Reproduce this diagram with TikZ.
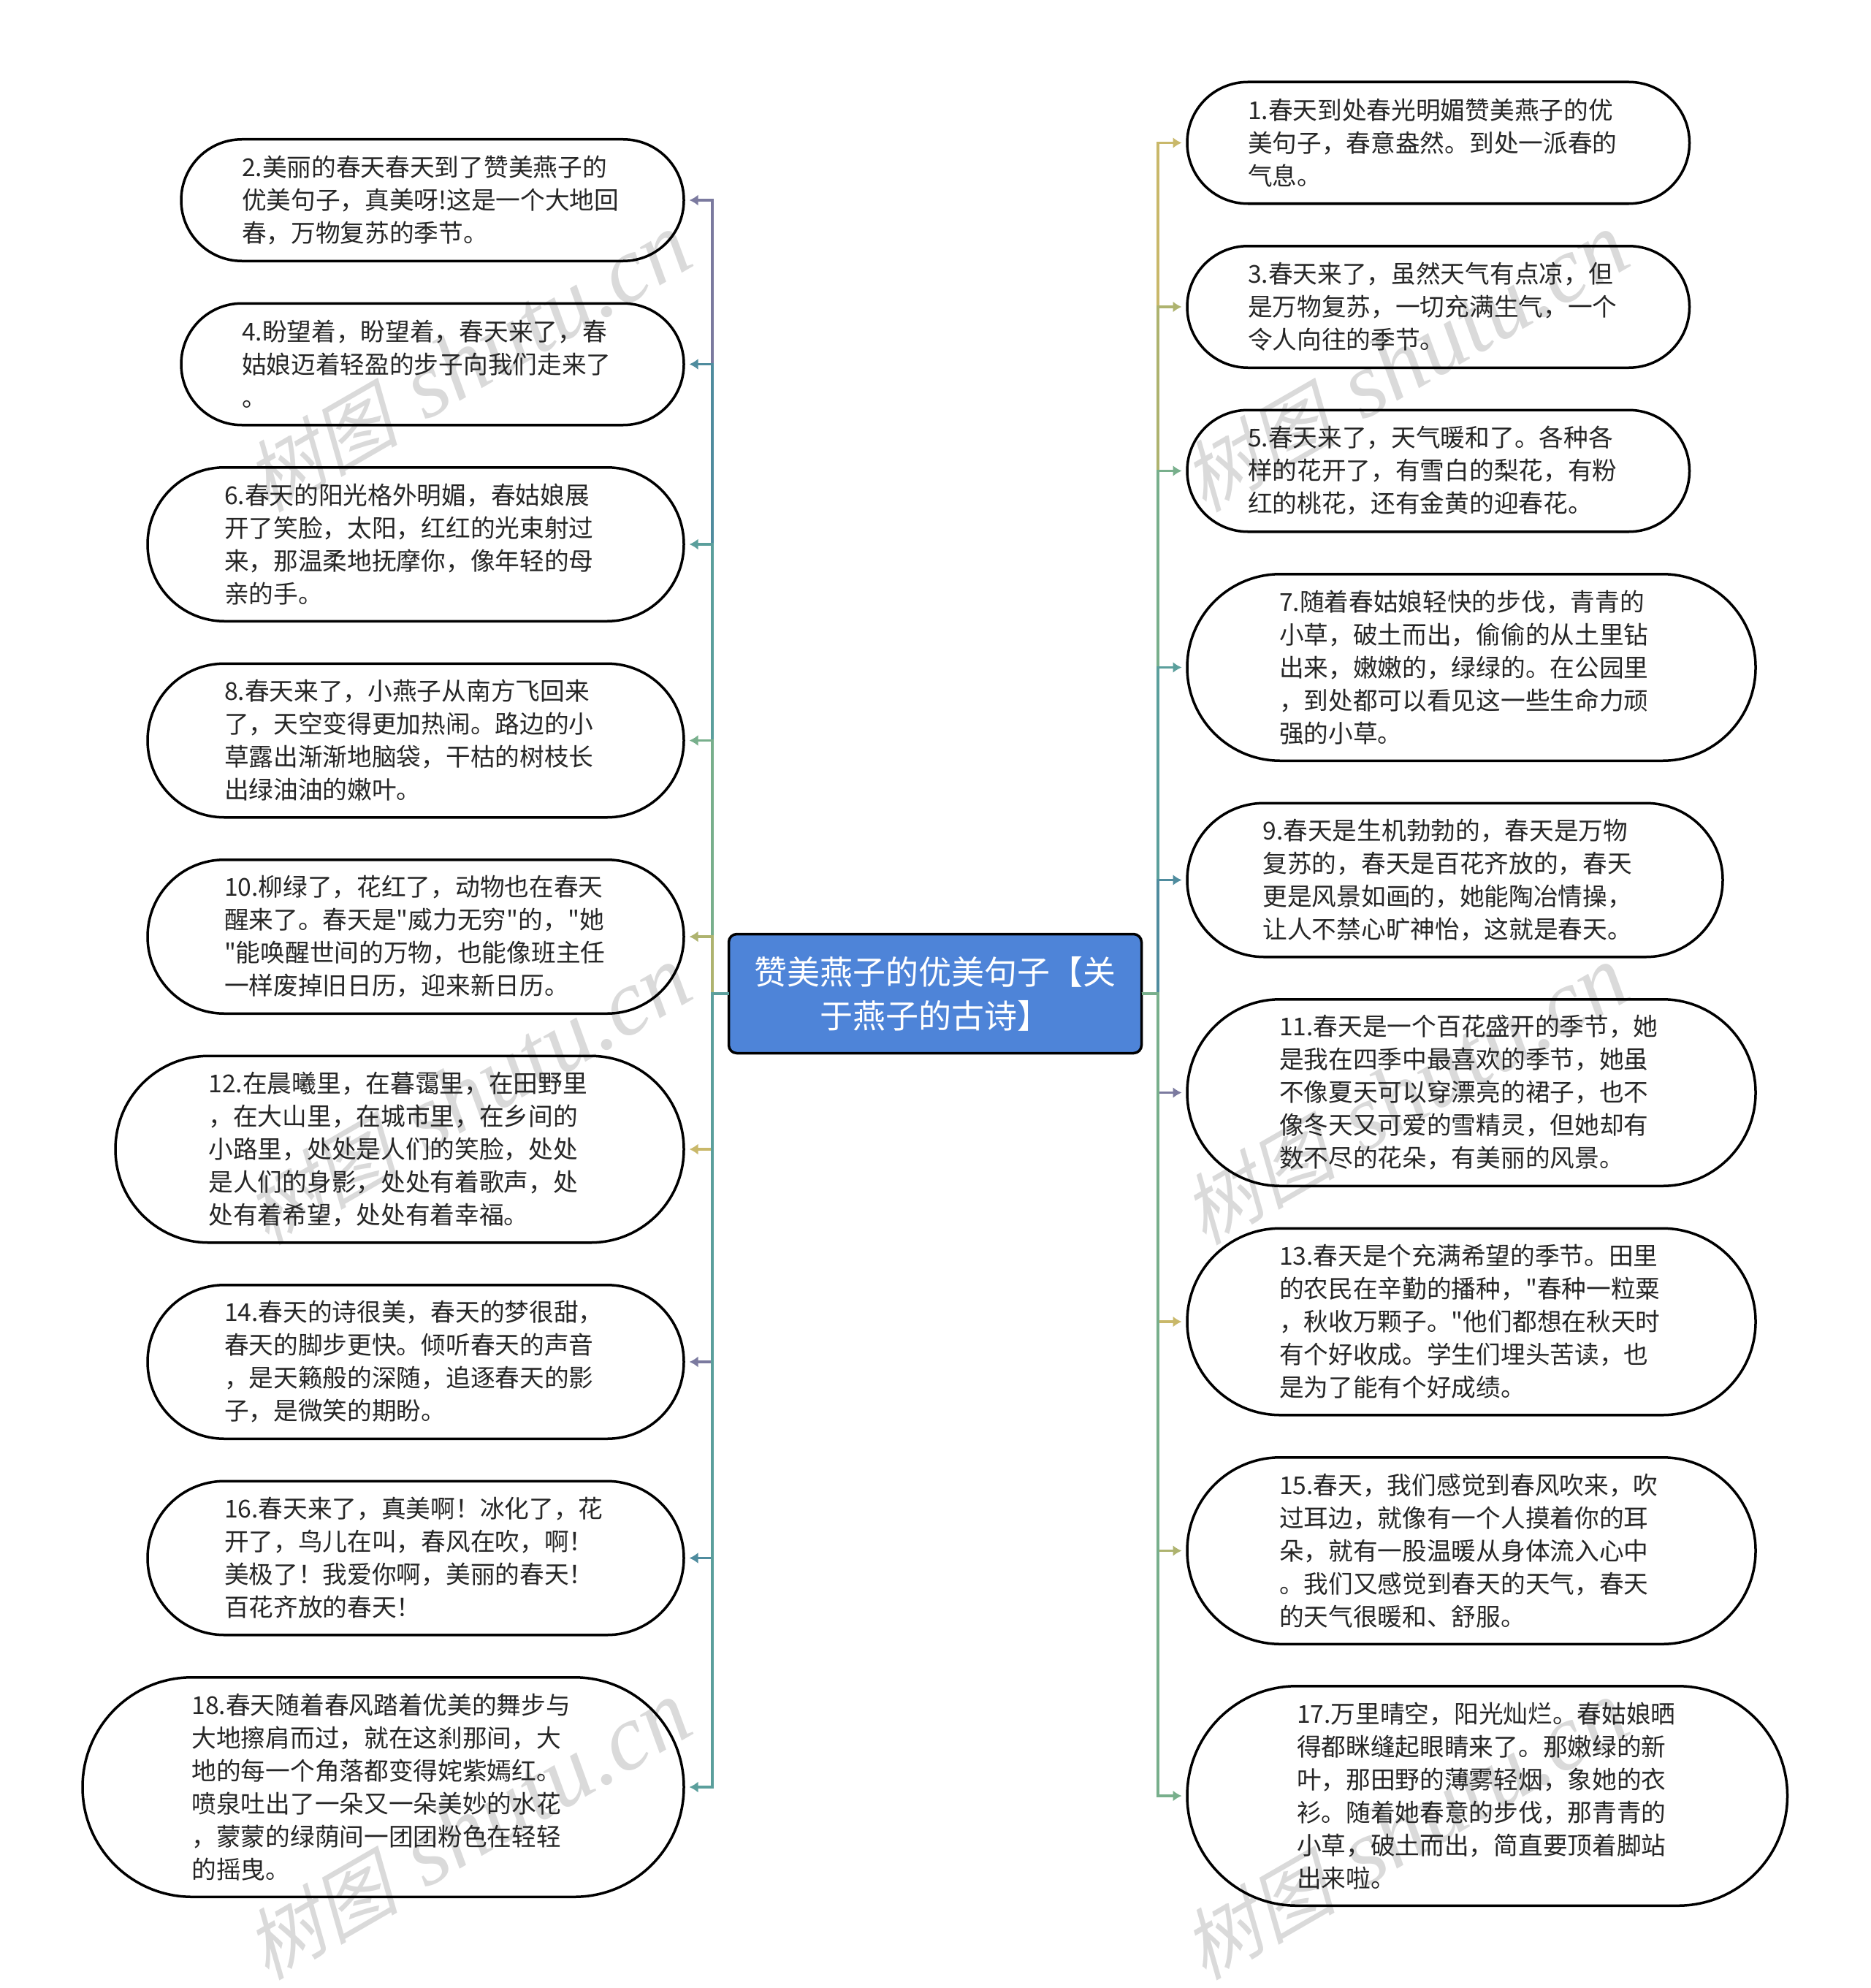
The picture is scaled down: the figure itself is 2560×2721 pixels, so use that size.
\documentclass[tikz,border=0pt]{standalone}
\usepackage{fontspec}
\usetikzlibrary{arrows.meta}
\newfontfamily\talkfont{Noto Sans CJK SC}
\newfontfamily\markcjk[FakeSlant=0.25]{Noto Sans CJK SC}
\newfontfamily\marklatin{Liberation Serif}
\newcommand{\stamptext}{{\markcjk\fontsize{106}{106}\selectfont 树图} {\marklatin\itshape shutu.cn}}
\definecolor{rootblue}{HTML}{4E84D8}
\definecolor{markgray}{HTML}{DADADA}
\definecolor{linepurple}{HTML}{7B7A9F}
\definecolor{lineblue}{HTML}{4F8C9E}
\definecolor{lineteal}{HTML}{5B9F9C}
\definecolor{linegreen}{HTML}{78AF8C}
\definecolor{lineolive}{HTML}{AEB36F}
\definecolor{linegold}{HTML}{C9B86A}
\begin{document}
\begin{tikzpicture}
    [
    x=1pt,y=-1pt,
    root/.style={rectangle,draw=black,line width=3.5pt,fill=rootblue,rounded corners=11pt,outer sep=0pt,inner sep=0pt,minimum width=565pt,minimum height=163pt,text=white,align=center,font=\talkfont\fontsize{45}{60}\selectfont},
    talk/.style={rectangle,draw=black,line width=3.5pt,outer sep=0pt,inner sep=0pt,align=left,text=black!85,font=\talkfont\fontsize{33.7}{45}\selectfont},
    talkthree/.style={talk,minimum height=166.5pt,rounded corners=83pt},
    talkfour/.style={talk,minimum height=210.5pt,rounded corners=105pt},
    talkfive/.style={talk,minimum height=255.5pt,rounded corners=127.5pt},
    talksix/.style={talk,minimum height=300.5pt,rounded corners=150pt},
    branch/.style={line width=3.5pt,shorten >=7.5pt,-{Latex[length=12pt,width=15pt]}},
    stamp/.style={rotate=30,text=markgray,inner sep=0pt,font=\fontsize{128}{128}\selectfont}
    ]
    \useasboundingbox (0,0) rectangle (2560,2721);
    \node (stamp1) at (640,497) [stamp] {\stamptext};
    \node (stamp2) at (1923,497) [stamp] {\stamptext};
    \node (stamp3) at (640,1500) [stamp] {\stamptext};
    \node (stamp4) at (1923,1500) [stamp] {\stamptext};
    \node (stamp5) at (640,2506) [stamp] {\stamptext};
    \node (stamp6) at (1923,2506) [stamp] {\stamptext};

    \node (topic) at (1280,1360) [root] {赞美燕子的优美句子【关\\于燕子的古诗】};

    \node (s2) at (592,274) [talkthree,minimum width=688pt,text width=522pt] {2.美丽的春天春天到了赞美燕子的\\优美句子，真美呀!这是一个大地回\\春，万物复苏的季节。};
    \node (s4) at (592,498.5) [talkthree,minimum width=688pt,text width=522pt] {4.盼望着，盼望着，春天来了，春\\姑娘迈着轻盈的步子向我们走来了\\。};
    \node (s6) at (569,745) [talkfour,minimum width=734pt,text width=524pt] {6.春天的阳光格外明媚，春姑娘展\\开了笑脸，太阳，红红的光束射过\\来，那温柔地抚摩你，像年轻的母\\亲的手。};
    \node (s8) at (569,1013.5) [talkfour,minimum width=734pt,text width=524pt] {8.春天来了，小燕子从南方飞回来\\了，天空变得更加热闹。路边的小\\草露出渐渐地脑袋，干枯的树枝长\\出绿油油的嫩叶。};
    \node (s10) at (569,1282) [talkfour,minimum width=734pt,text width=524pt] {10.柳绿了，花红了，动物也在春天\\醒来了。春天是"威力无穷"的，"她\\"能唤醒世间的万物，也能像班主任\\一样废掉旧日历，迎来新日历。};
    \node (s12) at (547,1573) [talkfive,minimum width=778pt,text width=523pt] {12.在晨曦里，在暮霭里，在田野里\\，在大山里，在城市里，在乡间的\\小路里，处处是人们的笑脸，处处\\是人们的身影，处处有着歌声，处\\处有着希望，处处有着幸福。};
    \node (s14) at (569,1864) [talkfour,minimum width=734pt,text width=524pt] {14.春天的诗很美，春天的梦很甜，\\春天的脚步更快。倾听春天的声音\\，是天籁般的深随，追逐春天的影\\子，是微笑的期盼。};
    \node (s16) at (569,2132.5) [talkfour,minimum width=734pt,text width=524pt] {16.春天来了，真美啊！冰化了，花\\开了，鸟儿在叫，春风在吹，啊！\\美极了！我爱你啊，美丽的春天！\\百花齐放的春天！};
    \node (s18) at (524.5,2446) [talksix,minimum width=823pt,text width=524pt] {18.春天随着春风踏着优美的舞步与\\大地擦肩而过，就在这刹那间，大\\地的每一个角落都变得姹紫嫣红。\\喷泉吐出了一朵又一朵美妙的水花\\，蒙蒙的绿荫间一团团粉色在轻轻\\的摇曳。};

    \node (s1) at (1968.75,195.5) [talkthree,minimum width=687.5pt,text width=521.5pt] {1.春天到处春光明媚赞美燕子的优\\美句子，春意盎然。到处一派春的\\气息。};
    \node (s3) at (1968.75,420) [talkthree,minimum width=687.5pt,text width=521.5pt] {3.春天来了，虽然天气有点凉，但\\是万物复苏，一切充满生气，一个\\令人向往的季节。};
    \node (s5) at (1968.75,644.5) [talkthree,minimum width=687.5pt,text width=521.5pt] {5.春天来了，天气暖和了。各种各\\样的花开了，有雪白的梨花，有粉\\红的桃花，还有金黄的迎春花。};
    \node (s7) at (2014,913.5) [talkfive,minimum width=778pt,text width=526pt] {7.随着春姑娘轻快的步伐，青青的\\小草，破土而出，偷偷的从土里钻\\出来，嫩嫩的，绿绿的。在公园里\\，到处都可以看见这一些生命力顽\\强的小草。};
    \node (s9) at (1991.5,1204.5) [talkfour,minimum width=733pt,text width=526pt] {9.春天是生机勃勃的，春天是万物\\复苏的，春天是百花齐放的，春天\\更是风景如画的，她能陶冶情操，\\让人不禁心旷神怡，这就是春天。};
    \node (s11) at (2014,1495.5) [talkfive,minimum width=778pt,text width=526pt] {11.春天是一个百花盛开的季节，她\\是我在四季中最喜欢的季节，她虽\\不像夏天可以穿漂亮的裙子，也不\\像冬天又可爱的雪精灵，但她却有\\数不尽的花朵，有美丽的风景。};
    \node (s13) at (2014,1809) [talkfive,minimum width=778pt,text width=526pt] {13.春天是个充满希望的季节。田里\\的农民在辛勤的播种，"春种一粒粟\\，秋收万颗子。"他们都想在秋天时\\有个好收成。学生们埋头苦读，也\\是为了能有个好成绩。};
    \node (s15) at (2014,2122.5) [talkfive,minimum width=778pt,text width=526pt] {15.春天，我们感觉到春风吹来，吹\\过耳边，就像有一个人摸着你的耳\\朵，就有一股温暖从身体流入心中\\。我们又感觉到春天的天气，春天\\的天气很暖和、舒服。};
    \node (s17) at (2035.75,2458) [talksix,minimum width=821.5pt,text width=521.5pt] {17.万里晴空，阳光灿烂。春姑娘晒\\得都眯缝起眼睛来了。那嫩绿的新\\叶，那田野的薄雾轻烟，象她的衣\\衫。随着她春意的步伐，那青青的\\小草，破土而出，简直要顶着脚站\\出来啦。};

    \draw [branch,linepurple] (topic.west) -- ++(-22.5,0) |- (s2.east);
    \draw [branch,lineblue] (topic.west) -- ++(-22.5,0) |- (s4.east);
    \draw [branch,lineteal] (topic.west) -- ++(-22.5,0) |- (s6.east);
    \draw [branch,linegreen] (topic.west) -- ++(-22.5,0) |- (s8.east);
    \draw [branch,lineolive] (topic.west) -- ++(-22.5,0) |- (s10.east);
    \draw [branch,linegold] (topic.west) -- ++(-22.5,0) |- (s12.east);
    \draw [branch,linepurple] (topic.west) -- ++(-22.5,0) |- (s14.east);
    \draw [branch,lineblue] (topic.west) -- ++(-22.5,0) |- (s16.east);
    \draw [branch,lineteal] (topic.west) -- ++(-22.5,0) |- (s18.east);

    \draw [branch,linegold] (topic.east) -- ++(22.5,0) |- (s1.west);
    \draw [branch,lineolive] (topic.east) -- ++(22.5,0) |- (s3.west);
    \draw [branch,linegreen] (topic.east) -- ++(22.5,0) |- (s5.west);
    \draw [branch,lineteal] (topic.east) -- ++(22.5,0) |- (s7.west);
    \draw [branch,lineblue] (topic.east) -- ++(22.5,0) |- (s9.west);
    \draw [branch,linepurple] (topic.east) -- ++(22.5,0) |- (s11.west);
    \draw [branch,linegold] (topic.east) -- ++(22.5,0) |- (s13.west);
    \draw [branch,lineolive] (topic.east) -- ++(22.5,0) |- (s15.west);
    \draw [branch,linegreen] (topic.east) -- ++(22.5,0) |- (s17.west);
  \end{tikzpicture}
\end{document}
